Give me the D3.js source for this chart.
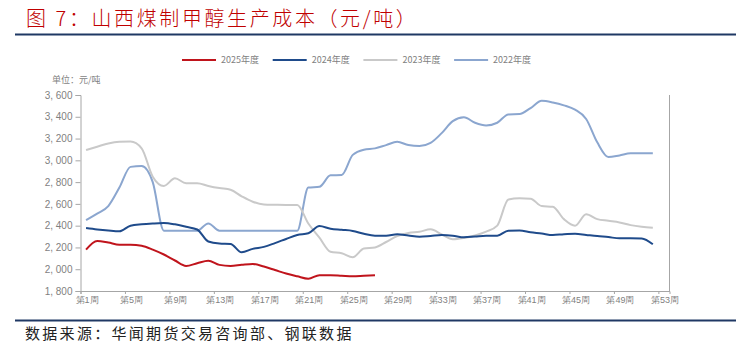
<!DOCTYPE html>
<html>
<head>
<meta charset="utf-8">
<script src="https://cdn.jsdelivr.net/npm/d3@7"></script>
<style>
  body { margin: 0; background: #fff; }
  svg { display: block; font-family: "Noto Sans CJK SC", "Noto Sans", sans-serif; }
</style>
</head>
<body>
<div id="chart"></div>
<script>
// 山西煤制甲醇生产成本 (weekly, 元/吨)

const width = 751,
    height = 351,
    margin = ({ top: 95, right: 82, bottom: 60, left: 80.5 });

const weekTicks = [1, 5, 9, 13, 17, 21, 25, 29, 33, 37, 41, 45, 49, 53];
const yTicks = [1800, 2000, 2200, 2400, 2600, 2800, 3000, 3200, 3400, 3600];

const y2025 = [2180, 2260, 2245, 2225, 2225, 2215, 2180, 2135, 2080, 2030,
    2055, 2078, 2040, 2030, 2040, 2048, 2025, 1993, 1960, 1935,
    1913, 1945, 1945, 1940, 1935, 1940, 1945];

const y2024 = [2378, 2365, 2355, 2348, 2400, 2413, 2420, 2424, 2412, 2390,
    2365, 2255, 2236, 2232, 2155, 2187, 2205, 2240, 2278, 2315,
    2330, 2397, 2372, 2362, 2352, 2325, 2308, 2308, 2322, 2310,
    2298, 2305, 2314, 2308, 2293, 2300, 2308, 2308, 2354, 2355,
    2340, 2328, 2314, 2322, 2326, 2315, 2304, 2295, 2284, 2284,
    2282, 2229];

const y2023 = [3095, 3125, 3155, 3170, 3172, 3110, 2850, 2765, 2835, 2790,
    2790, 2765, 2745, 2730, 2670, 2620, 2595, 2592, 2590, 2590,
    2420, 2290, 2160, 2146, 2110, 2190, 2200, 2250, 2305, 2333,
    2344, 2366, 2320, 2275, 2287, 2310, 2345, 2400, 2640, 2652,
    2648, 2580, 2574, 2460, 2400, 2505, 2460, 2445, 2430, 2405,
    2390, 2381];

const y2022 = [2450, 2510, 2580, 2750, 2940, 2948, 2800, 2354, 2354, 2354,
    2354, 2420, 2354, 2354, 2354, 2354, 2354, 2354, 2354, 2354,
    2750, 2757, 2862, 2865, 3050, 3098, 3110, 3140, 3170, 3140,
    3131, 3160, 3250, 3360, 3395, 3345, 3320, 3345, 3422, 3425,
    3480, 3547, 3532, 3505, 3465, 3380, 3165, 3030, 3045, 3064,
    3064, 3064];

const series = [
    { name: "2025年度", values: y2025, color: "#c0141c" },
    { name: "2024年度", values: y2024, color: "#1f4b8b" },
    { name: "2023年度", values: y2023, color: "#c9c9c9" },
    { name: "2022年度", values: y2022, color: "#8ba6cf" }
];

const svg = d3.select("#chart")
    .append("svg")
    .attr("width", width)
    .attr("height", height)
    .attr("viewBox", [0, 0, width, height]);

// title + rules
svg.append("text")
    .attr("x", 26)
    .attr("y", 26)
    .attr("fill", "#c00000")
    .attr("font-size", 20)
    .attr("font-weight", 300)
    .attr("letter-spacing", 2.6)
    .text("图 7：山西煤制甲醇生产成本（元/吨）");

svg.append("line")
    .attr("x1", 15).attr("x2", 736)
    .attr("y1", 34.5).attr("y2", 34.5)
    .attr("stroke", "#1f3864")
    .attr("stroke-width", 2);

svg.append("line")
    .attr("x1", 15).attr("x2", 736)
    .attr("y1", 320.5).attr("y2", 320.5)
    .attr("stroke", "#1f3864")
    .attr("stroke-width", 2);

svg.append("text")
    .attr("x", 25)
    .attr("y", 339)
    .attr("fill", "#222")
    .attr("font-size", 15)
    .attr("letter-spacing", 2.3)
    .text("数据来源：华闻期货交易咨询部、钢联数据");

// scales
const x = d3.scaleLinear()
    .domain([1, 54])
    .range([margin.left, width - margin.right + 0.5]);

const y = d3.scaleLinear()
    .domain([1800, 3600])
    .range([height - margin.bottom, margin.top]);

// axes
const xAxis = svg.append("g")
    .attr("transform", `translate(0,${height - margin.bottom})`)
    .call(d3.axisBottom(x)
        .tickValues(weekTicks)
        .tickSize(3)
        .tickFormat(d => `第${d}周`));

xAxis.selectAll("text")
    .attr("font-size", 9)
    .attr("fill", "#7f7f7f")
    .attr("dx", 6)
    .attr("dy", "0.7em");

const yAxis = svg.append("g")
    .attr("transform", `translate(${margin.left},0)`)
    .call(d3.axisLeft(y)
        .tickValues(yTicks)
        .tickSize(5)
        .tickFormat(d3.format(",")));

yAxis.selectAll("text")
    .attr("font-size", 10)
    .attr("fill", "#7f7f7f")
    .attr("x", -8)
    .text(d => d3.format(",")(d).replace(",", ", "));

svg.selectAll(".domain, .tick line")
    .attr("stroke", "#a6a6a6");

svg.append("line")
    .attr("x1", x(54)).attr("x2", x(54))
    .attr("y1", y(3600)).attr("y2", y(1800))
    .attr("stroke", "#a6a6a6");

svg.append("text")
    .attr("x", 52)
    .attr("y", 83)
    .attr("font-size", 9)
    .attr("fill", "#7f7f7f")
    .text("单位：元/吨");

// lines
const line = d3.line()
    .x((d, i) => x(i + 1.5))
    .y(d => y(d))
    .curve(d3.curveMonotoneX);

svg.append("g")
    .selectAll("path")
    .data(series.slice().reverse())
    .join("path")
    .attr("d", d => line(d.values))
    .attr("fill", "none")
    .attr("stroke", d => d.color)
    .attr("stroke-width", 2)
    .attr("stroke-linejoin", "round");

// legend
const legend = svg.append("g")
    .selectAll("g")
    .data(series)
    .join("g")
    .attr("transform", (d, i) => `translate(${182 + i * 90.7},60)`);

legend.append("line")
    .attr("x1", 0).attr("x2", 34)
    .attr("stroke", d => d.color)
    .attr("stroke-width", 2);

legend.append("text")
    .attr("x", 39)
    .attr("y", 3)
    .attr("font-size", 9)
    .attr("fill", "#7f7f7f")
    .text(d => d.name);
</script>
</body>
</html>
